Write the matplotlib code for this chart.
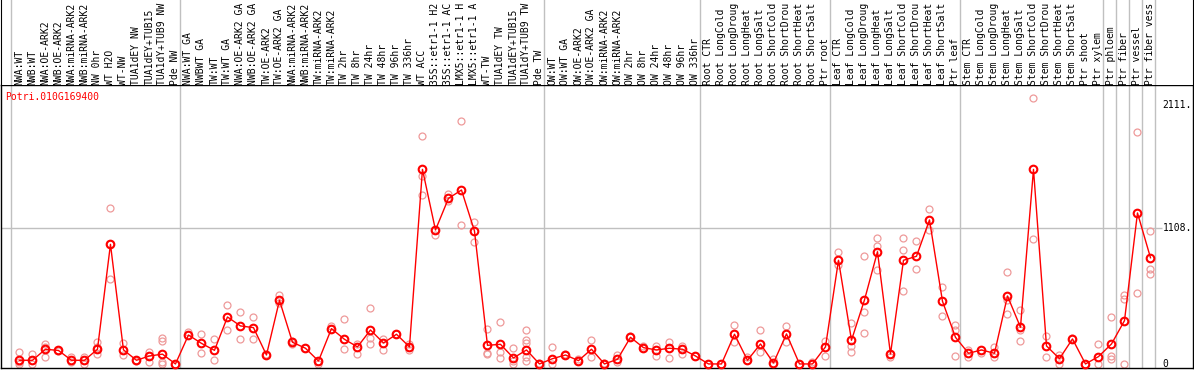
import matplotlib
matplotlib.use("Agg")
import matplotlib.pyplot as plt

# sample names, in plotting order (as shown, cut to 14 characters)
samples = [
    "NWA:WT", "NWB:WT", "NWA:OE-ARK2", "NWB:OE-ARK2", "NWA:miRNA-ARK2", "NWB:miRNA-ARK2",
    "NW 0hr", "WT H2O", "WT-NW", "TUA1dEY NW", "TUA1dEY+TUB15", "TUA1dY+TUB9 NW", "Pde NW",
    "NWA:WT GA", "NWBWT GA", "TW:WT", "TW:WT GA", "NWA:OE-ARK2 GA", "NWB:OE-ARK2 GA",
    "TW:OE-ARK2", "TW:OE-ARK2 GA", "NWA:miRNA-ARK2", "NWB:miRNA-ARK2", "TW:miRNA-ARK2",
    "TW:miRNA-ARK2", "TW 2hr", "TW 8hr", "TW 24hr", "TW 48hr", "TW 96hr", "TW 336hr",
    "WT ACC", "35S::etr1-1 H2", "35S::etr1-1 AC", "LMX5::etr1-1 H", "LMX5::etr1-1 A",
    "WT-TW", "TUA1dEY TW", "TUA1dEY+TUB15", "TUA1dY+TUB9 TW", "Pde TW",
    "OW:WT", "OW:WT GA", "OW:OE-ARK2", "OW:OE-ARK2 GA", "OW:miRNA-ARK2", "OW:miRNA-ARK2",
    "OW 2hr", "OW 8hr", "OW 24hr", "OW 48hr", "OW 96hr", "OW 336hr",
    "Root CTR", "Root LongCold", "Root LongDroug", "Root LongHeat", "Root LongSalt",
    "Root ShortCold", "Root ShortDrou", "Root ShortHeat", "Root ShortSalt", "Ptr root",
    "Leaf CTR", "Leaf LongCold", "Leaf LongDroug", "Leaf LongHeat", "Leaf LongSalt",
    "Leaf ShortCold", "Leaf ShortDrou", "Leaf ShortHeat", "Leaf ShortSalt", "Ptr leaf",
    "Stem CTR", "Stem LongCold", "Stem LongDroug", "Stem LongHeat", "Stem LongSalt",
    "Stem ShortCold", "Stem ShortDrou", "Stem ShortHeat", "Stem ShortSalt", "Ptr shoot",
    "Ptr xylem", "Ptr phloem", "Ptr fiber", "Ptr vessel", "Ptr fiber vess",
]

# mean expression per sample
mean_expr = [
    30, 30, 120, 110, 30, 30, 120, 975, 115, 30, 65, 80, 0,
    236, 168, 111, 383, 310, 296, 73, 519, 177, 128, 24, 288, 201, 139, 277, 171, 242, 139,
    1586, 1092, 1350, 1418, 1084, 152, 160, 49, 114, 0,
    43, 73, 27, 120, 0, 38, 217, 133, 114, 128, 120, 65,
    0, 0, 242, 30, 163, 8, 245, 0, 0, 139,
    845, 193, 522, 915, 81, 845, 878, 1174, 511, 217,
    87, 114, 87, 554, 299, 1586, 147, 43, 204, 0, 60,
    163, 353, 1231, 866,
]

# individual replicates per sample
replicates = [
    [100, 0, 15], [80, 0], [160, 60, 140], [110, 105], [60, 15], [60, 0], [175, 80, 140],
    [1271, 693, 975], [170, 70], [30, 25], [100, 15], [210, 190, 15, 0], [0],
    [263, 236], [245, 90], [205, 30], [478, 277], [424, 204], [383, 204], [85, 73],
    [560, 495], [190, 160], [128], [0, 24], [310, 288], [364, 125], [160, 79],
    [454, 215, 160], [207, 111], [242, 245], [160, 111], [1855, 1532, 1375], [1051, 1092],
    [1385, 1330], [1978, 1130], [1157, 992], [285, 92, 85], [345, 100, 49], [128, 20, 0],
    [277, 196, 170, 60, 20], [0, 10],
    [139, 0], [80, 73], [40, 27], [193, 60], [10, 0], [76, 15], [217, 225], [150, 133],
    [149, 62], [179, 46], [149, 80], [65],
    [0], [0], [318, 179], [55, 30], [274, 98], [40, 0], [312, 179], [0], [15, 0], [187, 68],
    [913, 807], [332, 100, 150], [878, 421, 250], [1024, 960, 766], [60, 81],
    [1029, 929, 595], [1000, 772], [1263, 1092], [625, 389], [318, 280, 65],
    [110, 60], [87], [141, 60], [750, 407, 520], [437, 280, 185], [2165, 1016], [228, 54],
    [70, 0], [215], [0], [160, 0],
    [380, 65, 40], [562, 527, 0], [1891, 576], [1084, 772, 731],
]

# last sample index of each group (separator drawn just after it)
group_ends = [-1, 12, 40, 52, 62, 72, 83, 84, 85, 86, 87]
ref_values = [2111, 1108, 0]
ref_labels = ["2111.", "1108.", "0"]
gene = "Potri.010G169400"

W, H = 1194, 370
mono = "DejaVu Sans Mono"
fs = 7.0
grey = "#c0c0c0"

fig = plt.figure(figsize=(W / 100, H / 100), dpi=100)
ax = fig.add_axes([1 / W, 2 / H, 1192 / W, 283 / H])
lab = fig.add_axes([1 / W, 285 / H, 1192 / W, 85 / H])

xlim = (-1.42, 90.27)
for a in (ax, lab):
    a.set_xlim(*xlim)
    a.set_xticks([])
    a.set_yticks([])
    for x in group_ends:
        a.axvline(x + 0.35, color=grey, lw=1, zorder=0)

ax.set_ylim(-33, 2274)
for s in ax.spines.values():
    s.set_color("black")
    s.set_linewidth(1)
lab.set_ylim(0, 1)
lab.spines["top"].set_visible(False)
lab.spines["bottom"].set_visible(False)

ax.hlines(1108, xlim[0], 87.9, color=grey, lw=1, zorder=0)

xs = list(range(len(samples)))
for i, reps in enumerate(replicates):
    ax.plot([i] * len(reps), reps, "o", ls="none", ms=5, mew=0.9,
            mfc="none", mec="#ee9a9a", zorder=2, clip_on=False)

ax.plot(xs, mean_expr, color="red", lw=1, zorder=3)
ax.plot(xs, mean_expr, "o", ls="none", ms=5.5, mew=1.5, mfc="none", mec="red",
        zorder=4, clip_on=False)

# rotated sample names above the plot
for i, name in enumerate(samples):
    lab.text(i, 0.005, name, rotation=90, ha="center", va="bottom",
             family=mono, fontsize=fs, color="black")

# value markers on the right
for v, t in zip(ref_values, ref_labels):
    ax.text(0.9745, v, t, transform=ax.get_yaxis_transform(), ha="left",
            va="center", family=mono, fontsize=fs, color="black")

fig.text(5 / W, 1 - 97 / H, gene, ha="left", va="center", family=mono,
         fontsize=fs, color="red")

fig.savefig("out.png", dpi=100)
plt.close(fig)
